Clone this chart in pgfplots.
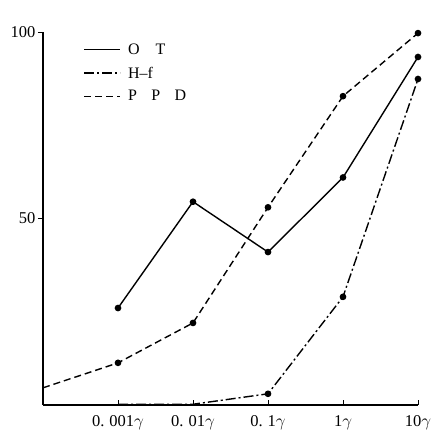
\documentclass[border=0pt]{standalone}
\usepackage{fontspec}
\setmainfont{Liberation Serif}
\usepackage{pgfplots}
\pgfplotsset{compat=1.18}
\begin{document}
\begin{tikzpicture}
\begin{axis}[
  scale only axis, width=375pt, height=373pt,
  xmin=0, xmax=5, ymin=0, ymax=100,
  axis lines=left, axis line style={-, line width=1.1pt},
  xtick={1,2,3,4,5},
  xticklabels={0.\hspace{0.3em}001$\gamma$, 0.\hspace{0.3em}01$\gamma$, 0.\hspace{0.3em}1$\gamma$, 1$\gamma$, 10$\gamma$},
  ytick={50,100},
  yticklabels={50,100},
  xtick align=inside, ytick align=outside,
  major tick length=5pt,
  tick style={black, line width=0.9pt},
  every tick label/.append style={font=\fontsize{16.5}{19}\selectfont},
  xticklabel style={yshift=-7pt},
  yticklabel style={xshift=1pt},
  /pgf/number format/assume math mode=true,
  legend style={draw=none, fill=none, at={(axis description cs:0.1,0.98)}, anchor=north west,
    font=\fontsize{16}{19}\selectfont, row sep=7pt},
  /tikz/every odd column/.append style={column sep=5pt},
  legend cell align=left,
  legend image code/.code={\draw[#1,mark=none] (0pt,0pt) -- (36pt,0pt);},
  cycle list={{black}},
  myline/.style={black, line width=1.4pt, mark=*, mark size=2.6pt, mark options={solid}},
]
\addplot[myline] coordinates {(1,26) (2,54.5) (3,41) (4,61) (5,93.3)};
\addlegendentry{O\hspace{1em}T}
\addplot[myline, dash pattern=on 10pt off 3pt on 2pt off 3pt, mark indices={3,4,5}] coordinates {(1,0.2) (2,0.2) (3,3) (4,29) (5,87.4)};
\addlegendentry{H--f}
\addplot[myline, dash pattern=on 7pt off 4pt, mark indices={2,3,4,5,6}] coordinates {(0,4.6) (1,11.3) (2,22) (3,53) (4,82.8) (5,99.7)};
\addlegendentry{P\hspace{0.9em}P\hspace{0.9em}D}
\node[font=\fontsize{16}{19}\selectfont] at (rel axis cs:0,1) [xshift=-20pt, yshift=19pt] {\%};
\end{axis}
\pgfresetboundingbox
\path ([shift={(-43pt,-26pt)}]current axis.south west) rectangle ([shift={(24pt,32pt)}]current axis.north east);
\end{tikzpicture}
\end{document}
